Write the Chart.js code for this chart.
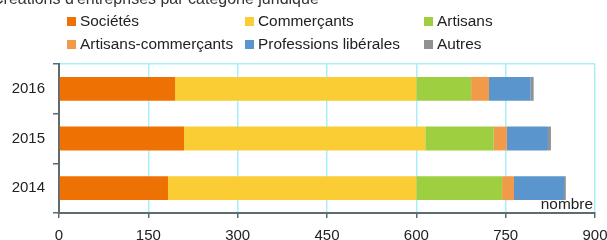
<!DOCTYPE html>
<html>
<head>
<meta charset="utf-8">
<script src="https://cdn.jsdelivr.net/npm/chart.js@4"></script>
<style>
  html, body { margin:0; padding:0; background:#fff; }
  #wrap { position:relative; width:607px; height:240px; overflow:hidden; font-family:"Liberation Sans", Arial, sans-serif; color:#222; }
  #c { position:absolute; left:0; top:0; }
  .t { position:absolute; white-space:nowrap; line-height:1; }
  .title { font-size:16px; left:-8px; top:-9.5px; color:#333; }
  .lg { font-size:15.4px; }
  .box { position:absolute; width:9px; height:9px; }
  .nombre { font-size:15.4px; right:14px; top:196px; }
</style>
</head>
<body>
<div id="wrap">
  <canvas id="c" width="607" height="240"></canvas>
  <div class="t title">Créations d'entreprises par catégorie juridique</div>
  <div id="legend"></div>
  <div class="t nombre">nombre</div>
</div>
<script>
const categories = ['2016', '2015', '2014'];
const seriesNames = ['Sociétés', 'Commerçants', 'Artisans', 'Artisans-commerçants', 'Professions libérales', 'Autres'];
const societes = [195, 210, 183];
const commercants = [405, 405, 417];
const artisans = [92, 115, 144];
const artisansCommercants = [30, 22, 20];
const professionsLiberales = [70, 69, 84];
const autres = [5, 5, 3];
const xTicks = [0, 150, 300, 450, 600, 750, 900];

const colors = ['#ee7203', '#f9cd33', '#9ecf41', '#f09a4a', '#5a96cd', '#919191'];
const values = [societes, commercants, artisans, artisansCommercants, professionsLiberales, autres];

// HTML legend in three columns
const legend = document.getElementById('legend');
const colX = [67, 245, 424];
const rowBoxTop = [17.3, 39.5];
const rowTextTop = [13.3, 35.7];
seriesNames.forEach((name, i) => {
  const col = i % 3, row = Math.floor(i / 3);
  const b = document.createElement('div');
  b.className = 'box';
  b.style.left = colX[col] + 'px';
  b.style.top = rowBoxTop[row] + 'px';
  b.style.background = colors[i];
  legend.appendChild(b);
  const t = document.createElement('div');
  t.className = 't lg';
  t.style.left = (colX[col] + 13) + 'px';
  t.style.top = rowTextTop[row] + 'px';
  t.textContent = name;
  legend.appendChild(t);
});

const axisColor = '#5f6b70';
const gridColor = '#a8effc';

new Chart(document.getElementById('c'), {
  type: 'bar',
  data: {
    labels: categories,
    datasets: seriesNames.map((n, i) => ({
      label: n,
      data: values[i],
      backgroundColor: colors[i],
      borderWidth: 0,
      barPercentage: 0.48,
      categoryPercentage: 1
    }))
  },
  options: {
    indexAxis: 'y',
    responsive: false,
    animation: false,
    devicePixelRatio: 1,
    layout: { padding: { top: 64, right: 12, left: 0, bottom: 0 } },
    plugins: { legend: { display: false }, title: { display: false }, tooltip: { enabled: false } },
    scales: {
      x: {
        stacked: true,
        min: 0, max: 900,
        afterBuildTicks: s => { s.ticks = xTicks.map(v => ({ value: v })); },
        ticks: { font: { family: 'Liberation Sans', size: 15 }, color: '#222', padding: 9, maxRotation: 0, autoSkip: false },
        grid: { color: gridColor, lineWidth: 1.5, tickColor: axisColor, tickLength: 5, tickWidth: 1.5 },
        border: { color: axisColor, width: 2 },
        afterFit: s => { s.height = 27; s.paddingLeft = 0; s.paddingRight = 0; }
      },
      y: {
        stacked: true,
        ticks: { font: { family: 'Liberation Sans', size: 15 }, color: '#222', padding: 8 },
        grid: {
          color: ctx => ctx.index === 0 ? gridColor : 'rgba(0,0,0,0)',
          lineWidth: 1.5,
          tickColor: axisColor, tickLength: 6, tickWidth: 1.5
        },
        border: { color: axisColor, width: 2 },
        afterFit: s => { s.width = 59; s.paddingTop = 0; s.paddingBottom = 0; }
      }
    }
  }
});
</script>
</body>
</html>
